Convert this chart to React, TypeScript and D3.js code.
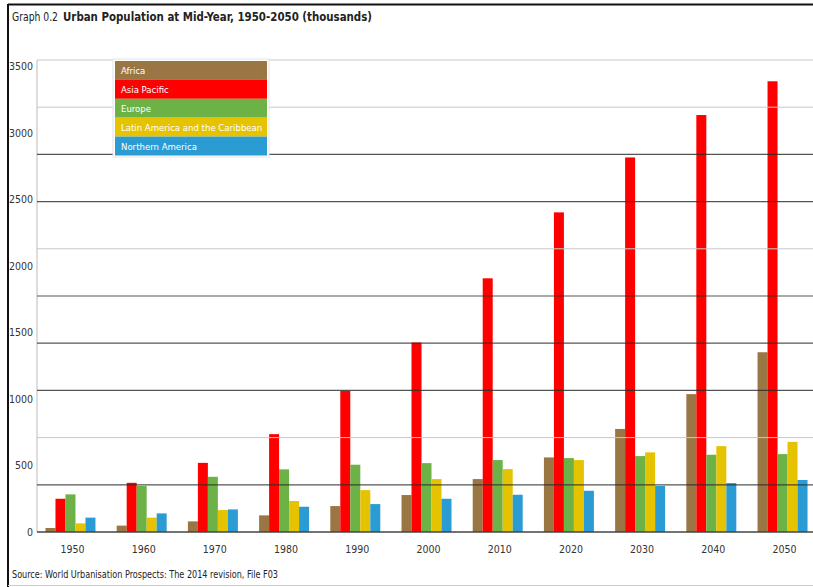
import React from "react";
import * as d3 from "d3";

// Urban population at mid-year by region, thousands
const years = ["1950", "1960", "1970", "1980", "1990", "2000", "2010", "2020", "2030", "2040", "2050"];
const regions = ["Africa", "Asia Pacific", "Europe", "Latin America and the Caribbean", "Northern America"];
const africa = [30, 48, 80, 125, 195, 278, 398, 561, 775, 1037, 1352];
const asiaPacific = [250, 370, 520, 736, 1061, 1425, 1908, 2404, 2817, 3136, 3390];
const europe = [283, 346, 415, 471, 506, 518, 541, 556, 571, 581, 586];
const latinAmerica = [65, 108, 165, 233, 315, 398, 473, 541, 599, 646, 678];
const northernAmerica = [108, 140, 170, 190, 210, 250, 280, 310, 346, 368, 391];
const yTicks = [0, 500, 1000, 1500, 2000, 2500, 3000, 3500];
const regionColors = ["#9b7645", "#ff0000", "#6cb247", "#e6c300", "#2a9cd3"];

const seriesValues = [africa, asiaPacific, europe, latinAmerica, northernAmerica];

const W = 813;
const H = 587;
const FONT = "'DejaVu Sans Condensed', 'Liberation Sans Narrow', 'Roboto', sans-serif";

export default function App() {
  const plotLeft = 37;
  const plotRight = 813;
  const plotTop = 60;
  const plotBottom = 532;

  const y = d3.scaleLinear().domain([0, 3550]).range([plotBottom, plotTop]);
  const x = d3.scaleBand<string>().domain(years).range([37, 816]).paddingInner(0.298).paddingOuter(0.119);
  const xInner = d3.scaleBand<string>().domain(regions).range([0, x.bandwidth()]).padding(0);

  // ten equal grid bands across the value range; some are drawn faint
  const gridValues = d3.range(1, 11).map((i) => (i * 3550) / 10);
  const faint = new Set([2, 6, 9, 10]);

  return (
    <svg
      width={W}
      height={H}
      style={{ position: "absolute", left: 0, top: 0, background: "#fff" }}
      fontFamily={FONT}
    >
      {/* frame */}
      <line x1={8} x2={8} y1={4} y2={H} stroke="#111" strokeWidth={2} />
      <line x1={8} x2={W} y1={4.5} y2={4.5} stroke="#111" strokeWidth={2} />
      <line x1={8} x2={W} y1={585.5} y2={585.5} stroke="#ccc" strokeWidth={1} />

      {/* title */}
      <text x={12} y={21} fontSize={12} fill="#222" textLength={46} lengthAdjust="spacingAndGlyphs">
        Graph 0.2
      </text>
      <text
        x={63}
        y={21}
        fontSize={12}
        fontWeight="bold"
        fill="#222"
        textLength={309}
        lengthAdjust="spacingAndGlyphs"
      >
        Urban Population at Mid-Year, 1950-2050 (thousands)
      </text>

      {/* y axis line */}
      <line x1={plotLeft} x2={plotLeft} y1={plotTop} y2={plotBottom} stroke="#bbb" strokeWidth={1} />

      {/* bars */}
      {years.map((yr, i) => (
        <g key={yr} transform={`translate(${x(yr)},0)`}>
          {regions.map((r, k) => {
            const v = seriesValues[k][i];
            return (
              <rect
                key={r}
                x={xInner(r)}
                y={y(v)}
                width={xInner.bandwidth()}
                height={plotBottom - y(v)}
                fill={regionColors[k]}
              />
            );
          })}
        </g>
      ))}

      {/* horizontal rules, drawn across the bars */}
      {gridValues.map((g, i) => (
        <line
          key={g}
          x1={plotLeft}
          x2={plotRight}
          y1={y(g)}
          y2={y(g)}
          stroke={faint.has(i + 1) ? "#c8c8c8" : "#2a2a2a"}
          strokeOpacity={faint.has(i + 1) ? 1 : 0.8}
          strokeWidth={faint.has(i + 1) ? 1 : 1.2}
        />
      ))}

      {/* baseline */}
      <line x1={plotLeft} x2={plotRight} y1={plotBottom} y2={plotBottom} stroke="#444" strokeWidth={1.3} />

      {/* y tick labels */}
      {yTicks.map((t) => (
        <text key={t} x={33} y={y(t)} dy="0.35em" textAnchor="end" fontSize={10.5} fill="#333">
          {t}
        </text>
      ))}

      {/* x labels */}
      {years.map((yr) => (
        <text
          key={yr}
          x={(x(yr) ?? 0) + x.bandwidth() / 2 + 2}
          y={549}
          dy="0.35em"
          textAnchor="middle"
          fontSize={10.5}
          fill="#333"
        >
          {yr}
        </text>
      ))}

      {/* legend */}
      <g transform="translate(115,61)">
        <rect x={-2} y={-2} width={156} height={98} fill="#fff" stroke="#e4e4e4" />
        {regions.map((r, k) => (
          <g key={r} transform={`translate(0,${k * 18.9})`}>
            <rect width={152} height={18.9} fill={regionColors[k]} />
            <text x={6} y={10} dy="0.35em" fontSize={9.5} fill="#fff">
              {r}
            </text>
          </g>
        ))}
      </g>

      {/* source */}
      <text x={12} y={578} fontSize={10} fill="#222" textLength={266} lengthAdjust="spacingAndGlyphs">
        Source: World Urbanisation Prospects: The 2014 revision, File F03
      </text>
    </svg>
  );
}
